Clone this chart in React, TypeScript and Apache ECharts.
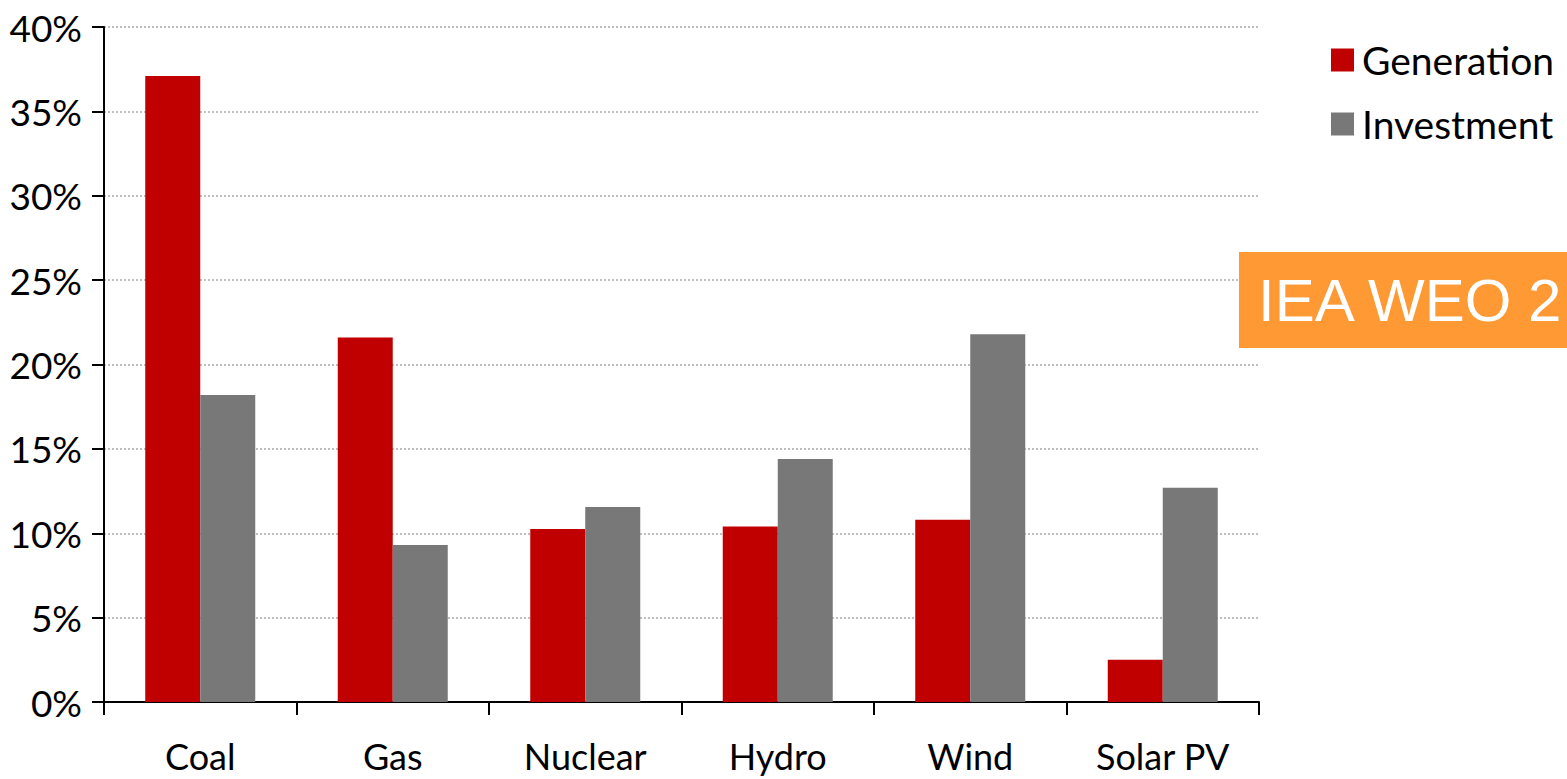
import React, { useEffect, useRef } from "react";
import * as echarts from "echarts";

const categories = ["Coal", "Gas", "Nuclear", "Hydro", "Wind", "Solar PV"];
const generation = [37.1, 21.6, 10.25, 10.4, 10.8, 2.5];
const investment = [18.2, 9.3, 11.55, 14.4, 21.8, 12.7];
const seriesNames = ["Generation", "Investment"];
const yTicks = { min: 0, max: 40, interval: 5 };
const badgeText = "IEA WEO 2";

const FONT = "Lato";

export default function App() {
  const ref = useRef<HTMLDivElement>(null);
  useEffect(() => {
    if (!ref.current) return;
    const chart = echarts.init(ref.current, undefined, { renderer: "svg" });
    chart.setOption({
      animation: false,
      backgroundColor: "#ffffff",
      grid: { left: 104, top: 27, width: 1155, height: 675, containLabel: false },
      legend: {
        orient: "vertical",
        left: 1326,
        top: 34,
        itemWidth: 23,
        itemHeight: 23,
        itemGap: 22,
        icon: "rect",
        data: seriesNames,
        textStyle: { fontFamily: FONT, fontSize: 39, color: "#000", lineHeight: 42, padding: [0, 0, 0, 3] },
      },
      xAxis: {
        type: "category",
        data: categories,
        axisLine: { lineStyle: { color: "#000", width: 2 } },
        axisTick: { show: true, length: 13, lineStyle: { color: "#000", width: 2 } },
        axisLabel: { fontFamily: FONT, fontSize: 36, color: "#000", margin: 36 },
        splitLine: { show: false },
      },
      yAxis: {
        type: "value",
        min: yTicks.min,
        max: yTicks.max,
        interval: yTicks.interval,
        axisLine: { show: true, lineStyle: { color: "#000", width: 2 } },
        axisTick: { show: true, length: 12, lineStyle: { color: "#000", width: 2 } },
        axisLabel: { fontFamily: FONT, fontSize: 37, color: "#000", margin: 22, formatter: "{value}%" },
        splitLine: { show: true, lineStyle: { color: "#BFBFBF", width: 2, type: [2, 2] } },
      },
      series: [
        {
          name: seriesNames[0],
          type: "bar",
          data: generation,
          barWidth: 55,
          barGap: "0%",
          itemStyle: { color: "#C00000" },
        },
        {
          name: seriesNames[1],
          type: "bar",
          data: investment,
          barWidth: 55,
          barGap: "0%",
          itemStyle: { color: "#787878" },
        },
      ],
      graphic: [
        {
          type: "rect",
          left: 1239,
          top: 252,
          shape: { width: 340, height: 96 },
          style: { fill: "#FF9933" },
          z: 10,
        },
        {
          type: "text",
          x: 1258,
          y: 300,
          style: {
            text: badgeText,
            fill: "#ffffff",
            font: "60px 'Liberation Sans', Arial, sans-serif",
            textVerticalAlign: "middle",
            textAlign: "left",
          },
          z: 11,
        },
      ],
    });
    return () => chart.dispose();
  }, []);
  return (
    <div
      ref={ref}
      style={{ position: "fixed", left: 0, top: 0, width: 1567, height: 779, overflow: "hidden" }}
    />
  );
}
